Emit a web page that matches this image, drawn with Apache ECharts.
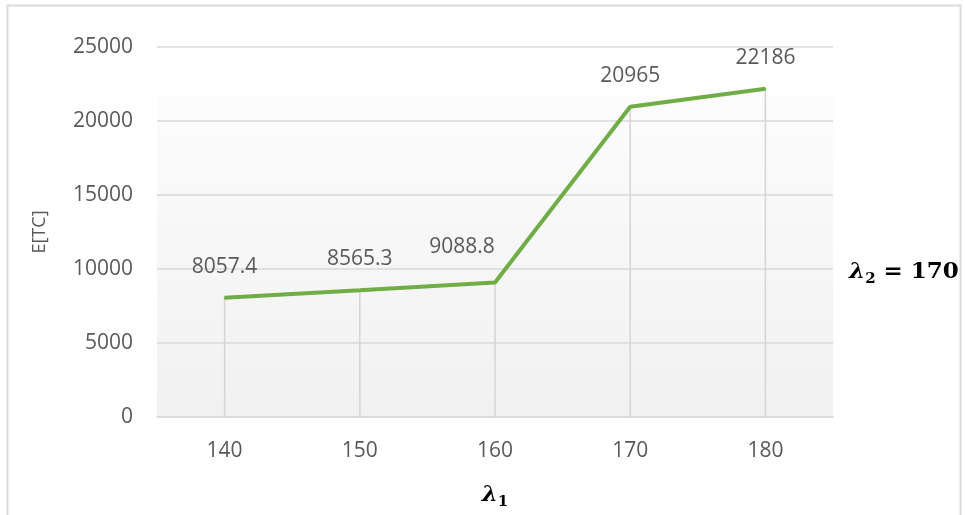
<!DOCTYPE html>
<html>
<head>
<meta charset="utf-8">
<script src="https://cdn.jsdelivr.net/npm/echarts@6/dist/echarts.min.js"></script>
<style>
html,body{margin:0;padding:0;background:#fff;}
#chart{width:965px;height:515px;}
</style>
</head>
<body>
<div id="chart"></div>
<script>
const categories = ['140', '150', '160', '170', '180'];
const values = [8057.4, 8565.3, 9088.8, 20965, 22186];
const labelTexts = ['8057.4', '8565.3', '9088.8', '20965', '22186'];
const yTicks = { min: 0, max: 25000, interval: 5000 };
const yName = 'E[TC]';
const sideNote = { sym: 'λ', sub: '2', rest: ' = 170' };
const xNameParts = { sym: 'λ', sub: '1' };

const chart = echarts.init(document.getElementById('chart'));
const txt = '#595959';
const gridCol = '#d9d9d9';

const lineData = values.map((v, i) => {
  const d = { value: v, label: { formatter: labelTexts[i] } };
  if (i === 2) d.label.offset = [-33, -4];
  return d;
});

const mathRich = {
  s: { fontFamily: 'DejaVu Serif', fontWeight: 'bold', fontStyle: 'italic', fontSize: 23, color: '#000', fill: '#000', lineHeight: 28, verticalAlign: 'middle' },
  b: { fontFamily: 'DejaVu Serif', fontWeight: 'bold', fontSize: 15, color: '#000', fill: '#000', lineHeight: 20, verticalAlign: 'middle', padding: [14, 0, 0, 0] },
  n: { fontFamily: 'DejaVu Serif', fontWeight: 'bold', fontSize: 23, color: '#000', fill: '#000', lineHeight: 28, verticalAlign: 'middle' }
};

chart.setOption({
  animation: false,
  backgroundColor: '#fff',
  grid: {
    left: 157, right: 132, top: 47, bottom: 98,
    outerBoundsMode: 'none',
    containLabel: false,
    show: true, borderWidth: 0,
    backgroundColor: new echarts.graphic.LinearGradient(0, 0, 0, 1, [
      { offset: 0, color: '#ffffff' },
      { offset: 0.13, color: '#ffffff' },
      { offset: 0.131, color: '#fcfcfc' },
      { offset: 1, color: '#f1f1f1' }
    ])
  },
  xAxis: {
    type: 'category',
    data: categories,
    boundaryGap: true,
    axisLine: { show: true, lineStyle: { color: gridCol, width: 1.5 } },
    axisTick: { show: false },
    splitLine: { show: false },
    axisLabel: { color: txt, fontFamily: 'Open Sans', fontSize: 21, margin: 24 },
    name: '{s|' + xNameParts.sym + '}{b|' + xNameParts.sub + '}',
    nameLocation: 'middle',
    nameGap: 64,
    nameTextStyle: { rich: mathRich }
  },
  yAxis: {
    type: 'value',
    min: yTicks.min, max: yTicks.max, interval: yTicks.interval,
    axisLine: { show: false },
    axisTick: { show: false },
    splitLine: { show: true, lineStyle: { color: gridCol, width: 1.5 } },
    axisLabel: { color: txt, fontFamily: 'Open Sans', fontSize: 21, margin: 24, formatter: v => String(v) },
    name: yName,
    nameLocation: 'middle',
    nameRotate: 90,
    nameGap: 108,
    nameTextStyle: { color: txt, fontFamily: 'Open Sans', fontSize: 18 }
  },
  series: [
    {
      type: 'bar',
      data: values,
      barWidth: 1.5,
      silent: true,
      itemStyle: { color: '#d4d4d4' },
      z: 1
    },
    {
      type: 'line',
      data: lineData,
      symbol: 'circle',
      symbolSize: 2,
      showSymbol: true,
      itemStyle: { color: '#70ad47' },
      lineStyle: { color: '#70ad47', width: 4 },
      label: {
        show: true,
        position: 'top',
        distance: 19,
        color: txt,
        fontFamily: 'Open Sans',
        fontSize: 21,
        lineHeight: 22
      },
      z: 3
    }
  ],
  graphic: [
    {
      type: 'rect',
      shape: { x: 7.5, y: 5.5, width: 953, height: 520 },
      style: { fill: null, stroke: gridCol, lineWidth: 2 },
      silent: true,
      z: 100
    },
    {
      type: 'text',
      left: 849,
      top: 258,
      style: {
        text: '{s|' + sideNote.sym + '}{b|' + sideNote.sub + '}{n|' + sideNote.rest + '}',
        rich: mathRich
      }
    }
  ]
});
</script>
</body>
</html>
